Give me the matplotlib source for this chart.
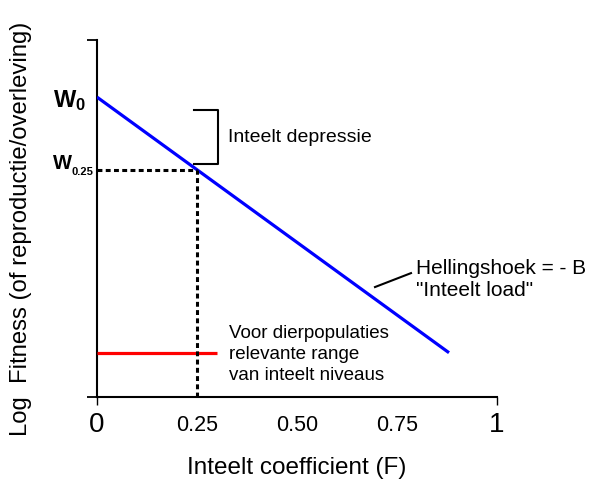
import matplotlib.pyplot as plt

plt.rcParams['font.family'] = ['Liberation Sans', 'DejaVu Sans']
plt.rcParams['mathtext.fontset'] = 'custom'
plt.rcParams['mathtext.bf'] = 'Liberation Sans:bold'
plt.rcParams['mathtext.rm'] = 'Liberation Sans'

# inteelt coefficient vs log fitness
F = [0.0, 0.25, 0.88]
fitness = [0.840, 0.637, 0.124]

# range of inbreeding levels relevant for animal populations
F_range = [0.0, 0.30]
range_level = 0.123

tick_major = [0, 1]
tick_minor = [0.25, 0.50, 0.75]
minor_labels = ['0.25', '0.50', '0.75']

fig = plt.figure(figsize=(5.92, 4.84), dpi=100)
ax = fig.add_axes([97/592, 87/484, 400/592, 357/484])
ax.set_xlim(0, 1)
ax.set_ylim(0, 1)

ax.spines['top'].set_visible(False)
ax.spines['right'].set_visible(False)
ax.spines['left'].set_linewidth(1.5)
ax.spines['bottom'].set_linewidth(1.5)

ax.set_xticks(tick_major)
ax.set_xticklabels(['0', '1'], fontsize=20)
ax.set_xticks(tick_minor, minor=True)
ax.set_xticklabels(minor_labels, minor=True, fontsize=15.5)
ax.tick_params(axis='x', which='major', length=6, width=1, pad=5)
ax.tick_params(axis='x', which='minor', length=0, pad=13)
ax.set_yticks([0, 1])
ax.set_yticklabels([])
ax.tick_params(axis='y', length=7, width=1.3)

# fitness line
ax.plot([F[0], F[-1]], [fitness[0], fitness[-1]], color='#0000ff', lw=2.3,
        solid_capstyle='butt', zorder=3)

# dotted guides to W_0.25
ax.plot([0, F[1]], [fitness[1], fitness[1]], color='black', lw=2.2,
        dashes=(1.6, 1.1), zorder=4)
ax.plot([F[1], F[1]], [0, fitness[1]], color='black', lw=2.2,
        dashes=(1.6, 1.1), zorder=4)

ax.plot(F_range, [range_level, range_level], color='#ff0000', lw=2.3,
        solid_capstyle='butt', zorder=3)

# bracket for inbreeding depression
bx = 0.3025
ax.plot([0.2425, bx, bx, 0.2425], [0.804, 0.804, fitness[1] + 0.016, fitness[1] + 0.016],
        color='black', lw=1.5, clip_on=False)
ax.text(0.3275, 0.728, 'Inteelt depressie', fontsize=14, va='center', ha='left')

# slope label
ax.plot([0.695, 0.785], [0.308, 0.347], color='black', lw=1.5)
ax.text(0.797, 0.329, 'Hellingshoek = - B\n"Inteelt load"', fontsize=15,
        va='center', ha='left', linespacing=1.2, clip_on=False)

ax.text(0.33, 0.12, 'Voor dierpopulaties\nrelevante range\nvan inteelt niveaus',
        fontsize=13.5, va='center', ha='left', linespacing=1.3)

ax.text(-0.11, 0.83, r'$\mathbf{W_0}$', fontsize=17, va='center', ha='left',
        clip_on=False)
ax.text(-0.11, 0.639, 'W', fontsize=14.5, fontweight='bold', va='baseline',
        ha='left', clip_on=False)
ax.text(-0.0625, 0.622, '0.25', fontsize=8, fontweight='bold', va='baseline',
        ha='left', clip_on=False)

fig.text(297/592, 1 - 474/484, 'Inteelt coefficient (F)', fontsize=17.5,
         ha='center', va='baseline')
fig.text(21/592, 1 - 229/484, 'Log  Fitness (of reproductie/overleving)',
         rotation=90, fontsize=17.2, ha='center', va='center')

fig.savefig('out.png', dpi=100)
